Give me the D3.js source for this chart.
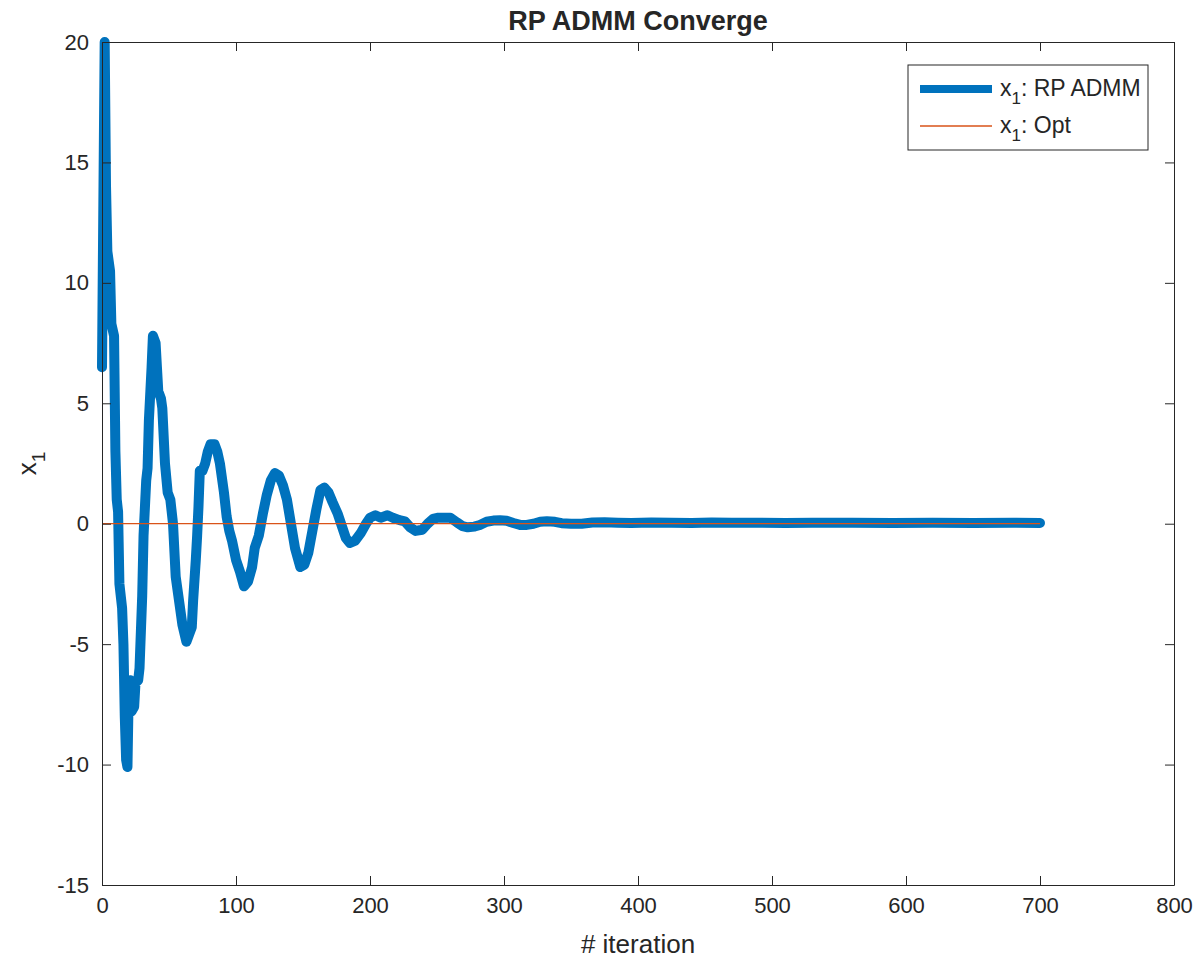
<!DOCTYPE html>
<html>
<head>
<meta charset="utf-8">
<script src="https://cdn.jsdelivr.net/npm/d3@7"></script>
<style>
body { margin:0; background:#fff; }
text { font-family: "Liberation Sans", Helvetica, Arial, sans-serif; fill:#262626; }
</style>
</head>
<body>
<svg id="chart"></svg>
<script>
// iteration numbers
var iters = [0,2,3,4,6,7,9,10,11,12,13,15,16,17,18,19,20,21,22,24,25,27,28,30,31,33,34,35,37,38,40,41,42,44,45,47,49,51,53,55,57,60,63,65,67,68,70,71,72,73,75,77,79,81,84,86,88,91,93,95,97,100,103,106,109,112,114,117,120,123,126,129,132,135,138,141,144,148,151,154,157,160,163,166,169,172,176,179,182,185,189,193,197,200,204,208,213,217,222,226,230,234,239,243,247,251,256,260,265,269,273,278,282,287,292,297,302,307,312,317,322,327,332,338,343,350,358,366,375,385,395,410,425,440,455,470,490,510,530,560,590,620,650,680,700];
// x1 value of RP ADMM at each iteration
var x1Values = [6.5,20,14,11.3,10.5,8.3,7.8,3,1,0.5,-2.5,-3.5,-5.0,-8,-9.8,-10.1,-6.8,-6.5,-7.8,-7.6,-6.6,-6.5,-6.0,-3,-0.5,1.8,2.3,4.3,6.5,7.8,7.5,6.5,5.5,5.2,4.8,2.5,1.3,1.0,0,-2.2,-3.0,-4.2,-4.9,-4.6,-4.3,-3.2,-1.5,-0.5,0.7,2.2,2.2,2.5,3.0,3.3,3.3,3.0,2.5,1.3,0.3,-0.3,-0.7,-1.5,-2.0,-2.6,-2.4,-1.8,-1.0,-0.5,0.4,1.2,1.8,2.1,2.0,1.6,1.0,0.0,-1.0,-1.8,-1.7,-1.2,-0.3,0.6,1.4,1.5,1.3,0.9,0.4,-0.1,-0.6,-0.8,-0.7,-0.4,0.0,0.25,0.35,0.25,0.35,0.25,0.15,0.1,-0.15,-0.3,-0.25,0.0,0.2,0.25,0.25,0.25,0.05,-0.1,-0.15,-0.12,-0.05,0.08,0.13,0.14,0.12,0.03,-0.05,-0.05,0.0,0.08,0.1,0.08,0.02,0.0,0.0,0.05,0.06,0.04,0.03,0.05,0.04,0.03,0.05,0.04,0.04,0.03,0.04,0.04,0.03,0.04,0.03,0.04,0.03];
var optValue = 0;
var xTicks = [0,100,200,300,400,500,600,700,800];
var yTicks = [-15,-10,-5,0,5,10,15,20];
var legendNames = ["RP ADMM","Opt"];

var screen = {width:1198,height:960};
var margins = {left:102,right:24,top:42,bottom:75};
var graph = {
    width:screen.width-margins.left-margins.right,
    height:screen.height-margins.top-margins.bottom
};

var svg = d3.select("#chart")
    .attr("width",screen.width)
    .attr("height",screen.height);

var xScale = d3.scaleLinear().domain([0,800]).range([0,graph.width]);
var yScale = d3.scaleLinear().domain([-15,20]).range([graph.height,0]);

var target = svg.append("g")
    .attr("transform","translate("+margins.left+","+margins.top+")");

var points = iters.map(function(d,i){ return {it:d, v:x1Values[i]}; });

var line = d3.line()
    .x(function(d){ return xScale(d.it); })
    .y(function(d){ return yScale(d.v); });

// RP ADMM
target.append("path")
    .datum(points)
    .attr("d",line)
    .attr("fill","none")
    .attr("stroke","#0072BD")
    .attr("stroke-width",10)
    .attr("stroke-linejoin","round")
    .attr("stroke-linecap","round");

// optimum
target.append("path")
    .datum([{it:0,v:optValue},{it:700,v:optValue}])
    .attr("d",line)
    .attr("fill","none")
    .attr("stroke","#D95319")
    .attr("stroke-width",1.3);

// axes, ticks inward on all four sides
var tickLen = 9;
var plain = function(d){ return String(d); };
var xAxis = d3.axisBottom(xScale).tickValues(xTicks).tickSizeInner(-tickLen).tickSizeOuter(0).tickPadding(12).tickFormat(plain);
var yAxis = d3.axisLeft(yScale).tickValues(yTicks).tickSizeInner(-tickLen).tickSizeOuter(0).tickPadding(13).tickFormat(plain);

var gx = target.append("g").attr("transform","translate(0,"+graph.height+")").call(xAxis);
var gy = target.append("g").call(yAxis);
var gxTop = target.append("g").call(d3.axisTop(xScale).tickValues(xTicks).tickSizeInner(-tickLen).tickSizeOuter(0).tickFormat(""));
var gyRight = target.append("g").attr("transform","translate("+graph.width+",0)")
    .call(d3.axisRight(yScale).tickValues(yTicks).tickSizeInner(-tickLen).tickSizeOuter(0).tickFormat(""));

[gx,gy,gxTop,gyRight].forEach(function(g){
    g.select(".domain").attr("stroke","#262626");
    g.selectAll(".tick line").attr("stroke","#262626");
    g.selectAll("text").attr("font-size",22).attr("fill","#262626")
        .style("font-family","Liberation Sans, Helvetica, Arial, sans-serif");
});

// labels
svg.append("text")
    .text("RP ADMM Converge")
    .attr("x",margins.left+graph.width/2)
    .attr("y",30)
    .attr("text-anchor","middle")
    .attr("font-size",27)
    .attr("font-weight","bold");

svg.append("text")
    .text("# iteration")
    .attr("x",margins.left+graph.width/2)
    .attr("y",953)
    .attr("text-anchor","middle")
    .attr("font-size",26);

var yl = svg.append("text")
    .attr("transform","translate(36,"+(margins.top+graph.height/2)+") rotate(-90)")
    .attr("text-anchor","middle")
    .attr("font-size",26);
yl.append("tspan").text("x");
yl.append("tspan").text("1").attr("font-size",19).attr("dy",9);

// legend
var legend = svg.append("g").attr("transform","translate(908,65)");
legend.append("rect")
    .attr("width",240).attr("height",85)
    .attr("fill","#fff").attr("stroke","#262626").attr("stroke-width",1);

var entries = legend.selectAll("g.entry")
    .data(legendNames)
    .enter()
    .append("g")
    .classed("entry",true)
    .attr("transform",function(d,i){ return "translate(0,"+(24+i*37)+")"; });

entries.append("line")
    .attr("x1",12).attr("x2",84)
    .attr("stroke",function(d,i){ return i==0 ? "#0072BD" : "#D95319"; })
    .attr("stroke-width",function(d,i){ return i==0 ? 8 : 1.3; });

var lt = entries.append("text")
    .attr("x",92).attr("y",7)
    .attr("font-size",23);
lt.append("tspan").text("x");
lt.append("tspan").text("1").attr("font-size",17).attr("dy",8);
lt.append("tspan").text(function(d){ return ": "+d; }).attr("dy",-8);
</script>
</body>
</html>
